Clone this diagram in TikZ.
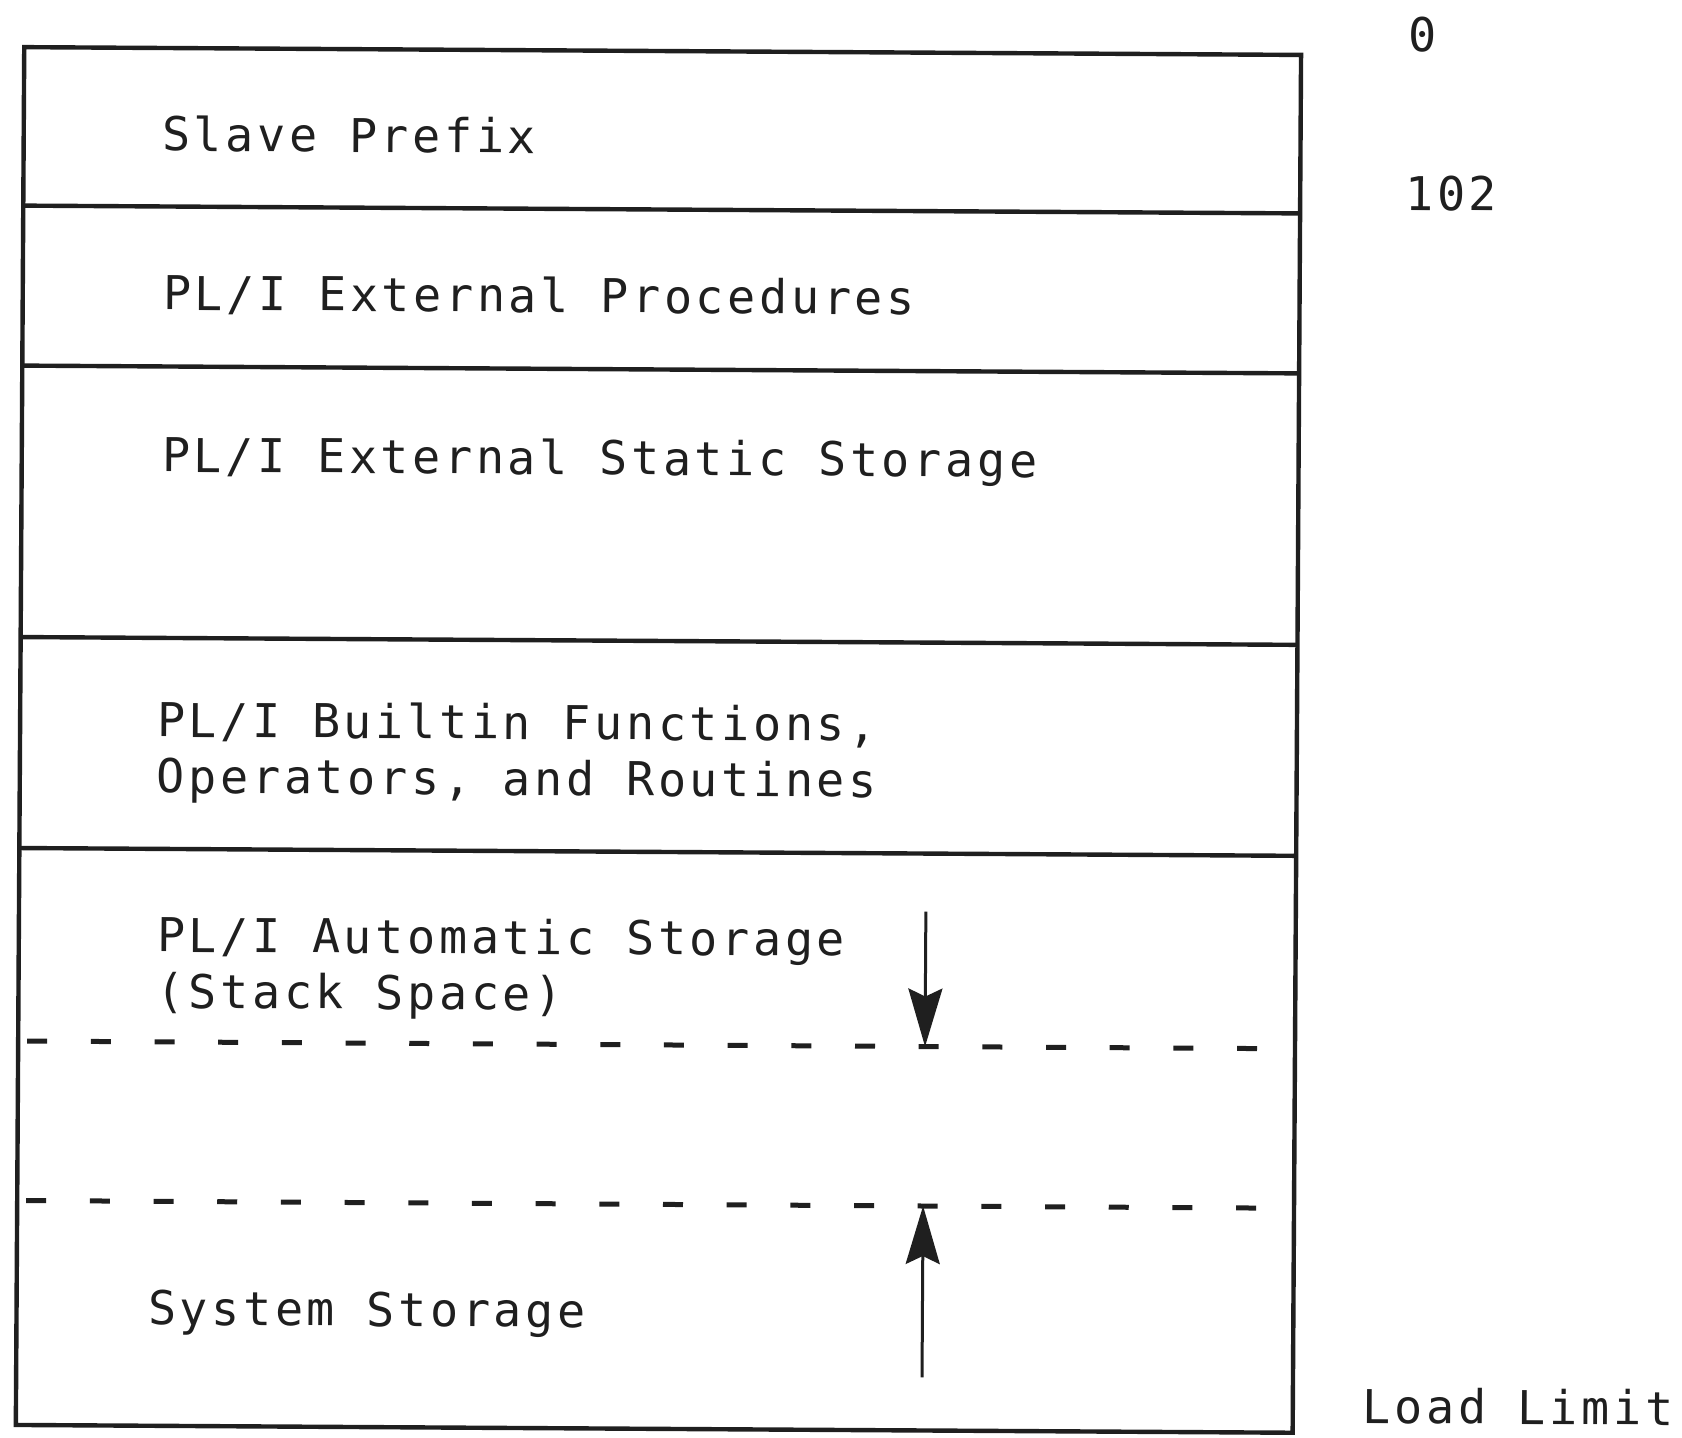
\documentclass[tikz,border=0pt]{standalone}
\usepackage{fontspec}
\newfontfamily\typefont[LetterSpace=8]{DejaVu Sans Mono}
\usetikzlibrary{arrows.meta}
\begin{document}
\begin{tikzpicture}[x=0.5pt,y=-0.5pt,
  boxline/.style={draw=black!88, line width=2.2pt},
  limitline/.style={draw=black!88, line width=2.5pt, dash pattern=on 10pt off 21.84pt},
  growarrow/.style={draw=black!88, fill=black!88, line width=1.5pt,
    -{Stealth[length=29pt,width=17pt,inset=4pt]}},
  memtext/.style={anchor=base west, inner sep=0pt, outer sep=0pt, text=black!88,
    font=\typefont\fontsize{23.3pt}{28pt}\selectfont}]
\useasboundingbox (0,0) rectangle (1682,1437);
\begin{scope}[rotate around={-0.35:(660,740)}, transform shape]
  % outer frame of the storage map
  \coordinate (frameNW) at (20,51);
  \coordinate (frameSE) at (1297,1429);
  \draw[boxline] (frameNW) rectangle (frameSE);
  % boundaries between the regions
  \foreach \yy/\nm in {209.5/a, 369.5/b, 641/c, 852/d} {
    \coordinate (sep\nm W) at (20,\yy);
    \coordinate (sep\nm E) at (1297,\yy);
    \draw[boxline] (sep\nm W) -- (sep\nm E);
  }
  % movable limits of the stack and of system storage
  \coordinate (stackW) at (29,1045);
  \coordinate (stackE) at (1259,1045);
  \coordinate (sysW) at (29,1204.5);
  \coordinate (sysE) at (1259,1204.5);
  \draw[limitline] (stackW) -- (stackE);
  \draw[limitline] (sysW) -- (sysE);
  % growth directions
  \coordinate (stackTail) at (927,910);
  \coordinate (stackTip) at (927,1045);
  \coordinate (sysTail) at (926,1376);
  \coordinate (sysTip) at (926,1204.5);
  \draw[growarrow] (stackTail) -- (stackTip);
  \draw[growarrow] (sysTail) -- (sysTip);
  % region names
  \node[memtext] (slave) at (158.5,154) {Slave Prefix};
  \node[memtext] (extproc) at (160.5,313) {PL/I External Procedures};
  \node[memtext] (extstatic) at (160.5,475) {PL/I External Static Storage};
  \node[memtext] (builtin1) at (157,740) {PL/I Builtin Functions,};
  \node[memtext] (builtin2) at (157.3,796) {Operators, and Routines};
  \node[memtext] (auto1) at (158.3,955) {PL/I Automatic Storage};
  \node[memtext] (auto2) at (158.6,1011) {(Stack Space)};
  \node[memtext] (sysstore) at (151.6,1328) {System Storage};
  % addresses
  \node[memtext] (addr0) at (1404,46.5) {0};
  \node[memtext] (addr102) at (1402,205.5) {102};
  \node[memtext] (loadlimit) at (1367,1419) {Load Limit};
\end{scope}
\end{tikzpicture}
\end{document}
